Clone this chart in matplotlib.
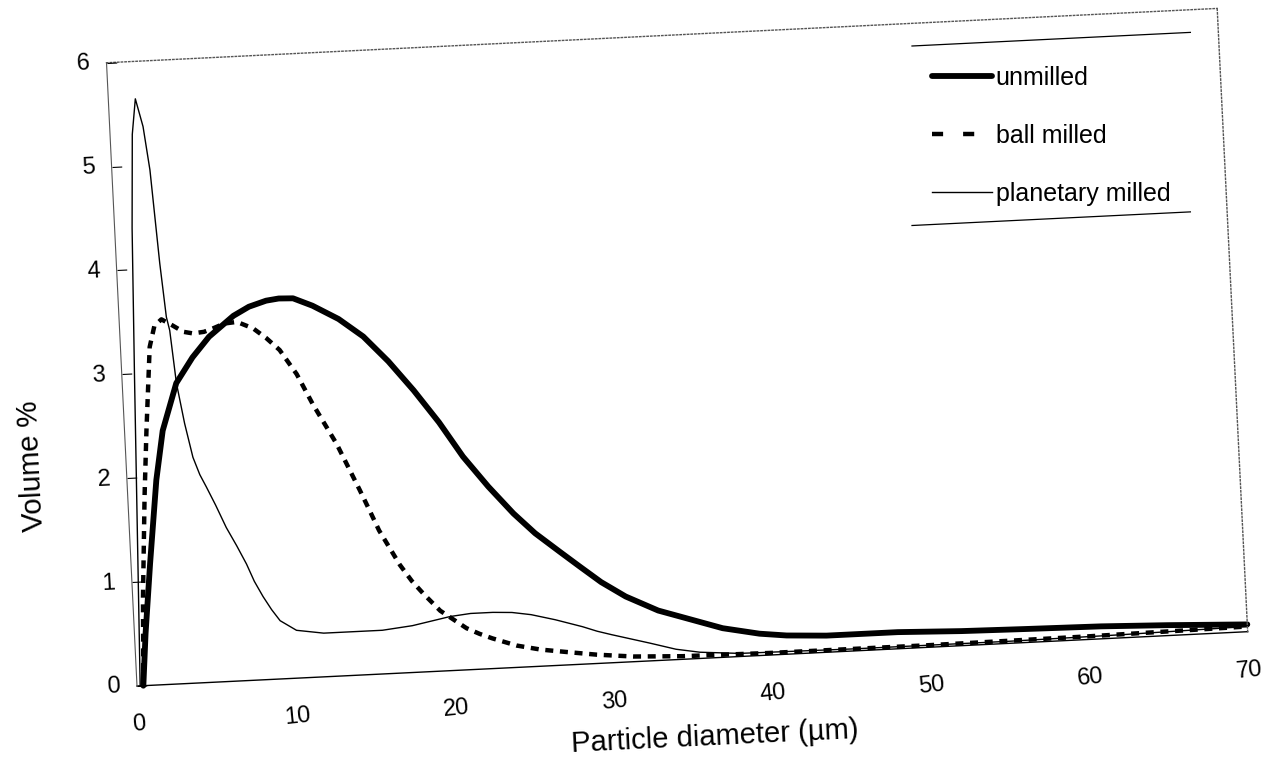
import numpy as np
import matplotlib.pyplot as plt
from matplotlib.lines import Line2D
from matplotlib.transforms import Affine2D
from mpl_toolkits.axisartist import floating_axes
from mpl_toolkits.axisartist.grid_finder import FixedLocator, DictFormatter

plt.rcParams['font.family'] = ['Liberation Sans', 'DejaVu Sans']

# Particle size distributions
# x = particle diameter (um), y = volume %
unmilled_x = [0.4, 0.7, 1.2, 1.85, 2.4, 3.4, 4.5, 5.6, 7.2, 8.2, 9.3, 10.1, 11.0, 12.2, 13.8,
              15.3, 16.8, 18.3, 19.8, 21.2, 22.7, 24.2, 25.5, 27.0, 28.2, 29.5, 31.0, 33.0,
              35.2, 37.0, 39.3, 41.0, 43.5, 48.0, 52.0, 56.0, 60.8, 65.0, 70.0]
unmilled_y = [0.0, 0.5, 1.17, 1.97, 2.44, 2.89, 3.13, 3.32, 3.51, 3.59, 3.64, 3.655, 3.65, 3.57, 3.43,
              3.25, 3.0, 2.71, 2.39, 2.05, 1.75, 1.48, 1.28, 1.09, 0.94, 0.78, 0.63, 0.48,
              0.37, 0.28, 0.21, 0.18, 0.16, 0.16, 0.14, 0.13, 0.12, 0.10, 0.07]

ball_x = [0.4, 0.65, 1.06, 1.38, 1.84, 2.2, 2.66, 3.3, 4.0, 4.6, 5.3, 5.9, 6.6, 7.4, 8.4,
          9.2, 10.0, 11.0, 11.9, 12.6, 13.3, 14.6, 15.1, 15.7, 16.9, 17.6, 18.3, 19.3,
          20.9, 21.7, 22.5, 24.0, 25.5, 27.1, 29.0, 31.3, 34.4, 40.0, 50.0, 60.0, 70.0]
ball_y = [0.0, 0.85, 1.82, 2.45, 3.25, 3.45, 3.51, 3.45, 3.38, 3.36, 3.37, 3.40, 3.44, 3.45, 3.38,
          3.28, 3.16, 2.92, 2.63, 2.43, 2.23, 1.78, 1.6, 1.38, 1.04, 0.88, 0.75, 0.58,
          0.40, 0.34, 0.29, 0.21, 0.16, 0.125, 0.085, 0.05, 0.03, 0.02, 0.02, 0.03, 0.05]

planetary_x = [0.2, 0.5, 0.8, 1.1, 1.4, 1.7, 2.1, 2.4, 2.73, 2.98, 3.15, 3.41, 3.8, 4.22,
               4.6, 4.97, 5.5, 6.1, 6.7, 7.26, 7.7, 8.2, 8.7, 9.2, 10.2, 11.9, 13.5, 15.6,
               17.5, 19.9, 21.2, 22.6, 23.8, 25.0, 26.5, 28.2, 29.1, 30.0, 31.2, 32.4, 34.0,
               35.5, 38.0, 45.0, 55.0, 62.0, 70.0]
planetary_y = [0.0, 1.5, 3.0, 4.4, 5.3, 5.64, 5.37, 4.95, 4.05, 3.53, 3.40, 2.89, 2.5, 2.17,
               2.0, 1.88, 1.7, 1.48, 1.3, 1.12, 0.95, 0.80, 0.67, 0.56, 0.46, 0.42, 0.42, 0.42,
               0.45, 0.52, 0.54, 0.54, 0.53, 0.50, 0.44, 0.36, 0.31, 0.27, 0.22, 0.17, 0.10,
               0.06, 0.03, 0.02, 0.02, 0.03, 0.05]

x_ticks = [0, 10, 20, 30, 40, 50, 60, 70]
y_ticks = [0, 1, 2, 3, 4, 5, 6]

W, H = 1279, 766
fig = plt.figure(figsize=(W / 100, H / 100), dpi=100)

# the scan is tilted by ~2.8 deg, so draw the plot box rotated
angle = 2.8
x_len, y_len = 1112, 624          # axis lengths in pixels
origin = np.array([137.0, 80.0])  # pixel position of (0, 0) from bottom-left
tr = Affine2D().scale(x_len / 70, y_len / 6).rotate_deg(angle)

corners = tr.transform([[0, 0], [70, 0], [70, 6], [0, 6]])
lo, hi = corners.min(axis=0), corners.max(axis=0)
size = (hi - lo) * 1.02
centre = origin + (lo + hi) / 2
rect = [(centre[0] - size[0] / 2) / W, (centre[1] - size[1] / 2) / H, size[0] / W, size[1] / H]

grid_helper = floating_axes.GridHelperCurveLinear(
    tr, extremes=(0, 70, 0, 6),
    grid_locator1=FixedLocator(x_ticks),
    grid_locator2=FixedLocator(y_ticks),
    tick_formatter1=DictFormatter({v: str(v) for v in x_ticks}),
    tick_formatter2=DictFormatter({v: str(v) for v in y_ticks}))
ax = fig.add_axes(rect, axes_class=floating_axes.FloatingAxes, grid_helper=grid_helper)

for side in ['left', 'bottom']:
    ax.axis[side].major_ticklabels.set_fontsize(17)
ax.axis['bottom'].major_ticklabels.set_rotation(angle)
ax.axis['bottom'].major_ticks.set_visible(False)
ax.axis['bottom'].major_ticklabels.set_pad(20)
ax.axis['bottom'].line.set_linewidth(1.0)
ax.axis['left'].major_ticks.set_ticksize(7)
ax.axis['left'].major_ticklabels.set_pad(12)
ax.axis['left'].line.set_color('#555555')
ax.axis['left'].line.set_linewidth(0.8)
for side in ['top', 'right']:
    ax.axis[side].major_ticks.set_visible(False)
    ax.axis[side].major_ticklabels.set_visible(False)
    ax.axis[side].line.set_linestyle(':')
    ax.axis[side].line.set_color('#555555')
    ax.axis[side].line.set_linewidth(1.0)

aux = ax.get_aux_axes(tr)
l1, = aux.plot(unmilled_x, unmilled_y, color='black', lw=4.2,
               solid_capstyle='round', solid_joinstyle='round')
l2, = aux.plot(ball_x, ball_y, color='black', lw=3.2, dashes=(1.8, 1.5))
l3, = aux.plot(planetary_x, planetary_y, color='black', lw=1.0)

fig.text(715 / W, 29 / H, 'Particle diameter (\u00b5m)', fontsize=21,
         rotation=angle, ha='center', va='center', rotation_mode='anchor')
fig.text(32 / W, 300 / H, 'Volume %', fontsize=21,
         rotation=90 + angle, ha='center', va='center', rotation_mode='anchor')

# the legend sample of the dashed line has wider dashes than the curve
ball_key = Line2D([], [], color='black', lw=3.2, dashes=(2.5, 4.5))
leg = fig.legend([l1, ball_key, l3], ['unmilled', 'ball milled', 'planetary milled'],
                 loc='upper left', bbox_to_anchor=(912 / W, 1 - 46 / H),
                 frameon=False, fontsize=18, handlelength=2.4, handletextpad=0.15,
                 labelspacing=1.35, borderpad=0.8, borderaxespad=0)

# rules above and below the legend, as in the original
fig.canvas.draw()
bb = leg.get_window_extent().transformed(fig.transFigure.inverted())
rise = (bb.x1 - bb.x0) * W * np.tan(np.radians(angle)) / H
for y in [bb.y0, bb.y1]:
    fig.add_artist(Line2D([bb.x0, bb.x1], [y, y + rise], color='black', lw=0.9))

fig.savefig('out.png', dpi=100)
